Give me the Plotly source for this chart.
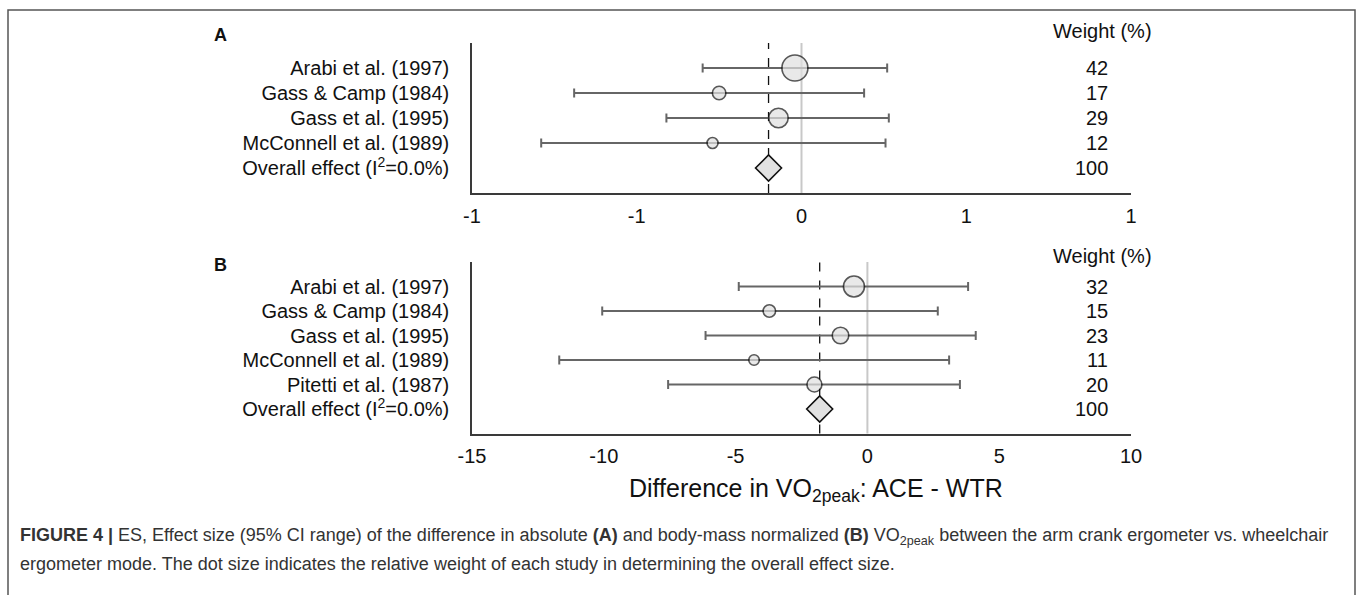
import plotly.graph_objects as go

# ---------------- data ----------------
studies_a = ["Arabi et al. (1997)", "Gass & Camp (1984)", "Gass et al. (1995)",
             "McConnell et al. (1989)", "Overall effect (I<sup>2</sup>=0.0%)"]
est_a = [-0.02, -0.25, -0.07, -0.27]
lo_a = [-0.30, -0.69, -0.41, -0.79]
hi_a = [0.26, 0.19, 0.265, 0.255]
weight_a = [42, 17, 29, 12]
overall_a = -0.10
overall_weight_a = 100

studies_b = ["Arabi et al. (1997)", "Gass & Camp (1984)", "Gass et al. (1995)",
             "McConnell et al. (1989)", "Pitetti et al. (1987)",
             "Overall effect (I<sup>2</sup>=0.0%)"]
est_b = [-0.51, -3.72, -1.02, -4.30, -2.01]
lo_b = [-4.88, -10.06, -6.14, -11.69, -7.56]
hi_b = [3.82, 2.67, 4.11, 3.10, 3.51]
weight_b = [32, 15, 23, 11, 20]
overall_b = -1.81
overall_weight_b = 100

ticks_a_vals = [-1, -0.5, 0, 0.5, 1]
ticks_a_text = ["-1", "-1", "0", "1", "1"]
ticks_b_vals = [-15, -10, -5, 0, 5, 10]
ticks_b_text = ["-15", "-10", "-5", "0", "5", "10"]

x_title = "Difference in VO<sub>2peak</sub>: ACE - WTR"
caption_1 = ("<b>FIGURE 4 |</b> ES, Effect size (95% CI range) of the difference in absolute <b>(A)</b> "
             "and body-mass normalized <b>(B)</b> VO<sub>2peak</sub> between the arm crank ergometer vs. wheelchair")
caption_2 = "ergometer mode. The dot size indicates the relative weight of each study in determining the overall effect size."

# ---------------- layout helpers ----------------
W, H = 1360, 595
FONT = "Liberation Sans, Arial, sans-serif"


def px(x):
    return x / W


def py(y):
    return 1 - y / H


def msize(w):
    return 5 + 0.5 * w


fig = go.Figure()

ERR = dict(type="data", symmetric=False, color="#666666", thickness=2, width=4.5)
MARK_FILL = "#e1e1e1"


def add_panel(est, lo, hi, wts, overall, xa, ya):
    n = len(est)
    rows = list(range(n))
    fig.add_trace(go.Scatter(
        x=est, y=rows, mode="markers", xaxis=xa, yaxis=ya, showlegend=False,
        error_x=dict(ERR, array=[h - e for h, e in zip(hi, est)],
                     arrayminus=[e - l for e, l in zip(est, lo)]),
        marker=dict(symbol="circle", size=[msize(w) for w in wts], color=MARK_FILL,
                    line=dict(color="#111111", width=1.6)),
    ))
    fig.add_trace(go.Scatter(
        x=[overall], y=[n], mode="markers", xaxis=xa, yaxis=ya, showlegend=False,
        marker=dict(symbol="diamond", size=20, color=MARK_FILL,
                    line=dict(color="#111111", width=1.6)),
    ))


add_panel(est_a, lo_a, hi_a, weight_a, overall_a, "x", "y")
add_panel(est_b, lo_b, hi_b, weight_b, overall_b, "x2", "y2")

# reference lines (zero and overall effect)
for xref, yref, ov in [("x", "y domain", overall_a), ("x2", "y2 domain", overall_b)]:
    fig.add_shape(type="line", xref=xref, yref=yref, x0=0, x1=0, y0=0, y1=1,
                  line=dict(color="#c8c8c8", width=2), layer="below")
    fig.add_shape(type="line", xref=xref, yref=yref, x0=ov, x1=ov, y0=0, y1=1,
                  line=dict(color="#111111", width=1.3, dash="dash"), layer="below")

# outer frame
fig.add_shape(type="rect", xref="paper", yref="paper", x0=px(8), x1=px(1355),
              y0=py(640), y1=py(10), line=dict(color="#555555", width=1.5))

XDOM = [px(472), px(1131)]
axis_common = dict(showgrid=False, zeroline=False, showline=True, linecolor="#3a3a3a",
                   linewidth=1.5, ticks="", automargin=False,
                   tickfont=dict(family=FONT, size=20, color="#111111"))

fig.update_layout(
    template="none",
    width=W, height=H, autosize=False,
    margin=dict(l=0, r=0, t=0, b=0, pad=0),
    paper_bgcolor="white", plot_bgcolor="white",
    font=dict(family=FONT, color="#111111"),
    xaxis=dict(axis_common, domain=XDOM, anchor="y", range=[-1, 1],
               tickvals=ticks_a_vals, ticktext=ticks_a_text, ticklabelstandoff=4),
    yaxis=dict(axis_common, domain=[py(193), py(43)], anchor="x", range=[len(studies_a), -1],
               tickvals=list(range(len(studies_a))), ticktext=studies_a, ticklabelstandoff=17),
    xaxis2=dict(axis_common, domain=XDOM, anchor="y2", range=[-15, 10],
                tickvals=ticks_b_vals, ticktext=ticks_b_text, ticklabelstandoff=4),
    yaxis2=dict(axis_common, domain=[py(433.5), py(262)], anchor="x2", range=[len(studies_b), -1],
                tickvals=list(range(len(studies_b))), ticktext=studies_b, ticklabelstandoff=17),
)

ann = []
TXT = dict(family=FONT, size=20, color="#111111")


def note(text, x, y, font, xanchor="center", yref="paper"):
    ann.append(dict(text=text, x=x, y=y, xref="paper", yref=yref, xanchor=xanchor,
                    yanchor="middle", showarrow=False, font=font))


# panel letters
note("<b>A</b>", px(220), py(35), dict(family=FONT, size=18, color="#111111"))
note("<b>B</b>", px(220), py(265), dict(family=FONT, size=18, color="#111111"))
# weight headers
note("Weight (%)", px(1102), py(31), TXT)
note("Weight (%)", px(1102), py(256), TXT)
# weight values
for yref, wts, ow in [("y", weight_a, overall_weight_a), ("y2", weight_b, overall_weight_b)]:
    for i, w in enumerate(list(wts) + [ow]):
        note(str(w), px(1110), i, TXT, xanchor="right", yref=yref)
# x axis title
note(x_title, px(816), py(490), dict(family=FONT, size=25, color="#111111"))
# caption
CAP = dict(family=FONT, size=18, color="#333333")
note(caption_1, px(18), py(536), CAP, xanchor="left")
note(caption_2, px(18), py(564), CAP, xanchor="left")
fig.update_layout(annotations=ann)

fig.write_html("out.html", config={"responsive": False, "displayModeBar": False},
               post_script="document.body.style.margin='0';document.body.style.overflow='hidden';")
